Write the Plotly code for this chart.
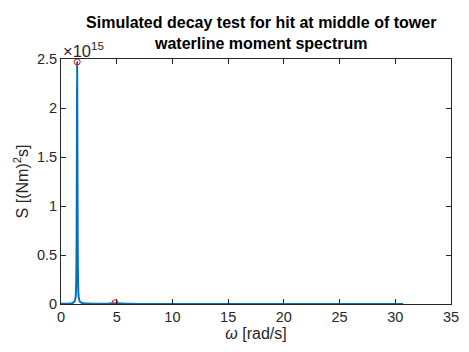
import plotly.graph_objects as go

# spectrum samples (rad/s, (Nm)^2 s)
omega = [0.0, 0.5, 1.0, 1.2, 1.3, 1.36, 1.40, 1.43, 1.45, 1.47, 1.50, 1.54, 1.60, 1.7, 1.9, 2.3, 3.0, 4.0, 4.85, 6.0, 8.0, 12.0, 16.0, 20.0, 25.0, 30.7]
S = [2e12, 3e12, 8e12, 2.5e13, 6e13, 2.0e14, 6.5e14, 1.7e15, 2.47e15, 1.7e15, 6.5e14, 2.0e14, 6e13, 2.5e13, 1.0e13, 5e12, 3e12, 3e12, 8e12, 2e12, 1e12, 6e11, 4e11, 3e11, 2e11, 1e11]

# detected peaks
peak_omega = [1.45, 4.85]
peak_S = [2.47e15, 1.2e13]

ytick_vals = [0, 0.5e15, 1.0e15, 1.5e15, 2.0e15, 2.5e15]
ytick_text = ["0", "0.5", "1", "1.5", "2", "2.5"]
xtick_vals = [0, 5, 10, 15, 20, 25, 30, 35]

fig = go.Figure()
fig.add_trace(go.Scatter(x=omega, y=S, mode="lines",
                         line=dict(color="#0072BD", width=2), line_shape="spline"))
fig.add_trace(go.Scatter(x=peak_omega, y=peak_S, mode="markers",
                         marker=dict(symbol="circle-open", color="red", size=6, line=dict(width=1))))

axis_common = dict(showline=True, linecolor="#262626", linewidth=1, mirror="ticks",
                   ticks="inside", ticklen=5, tickcolor="#262626", showgrid=False,
                   zeroline=False, tickfont=dict(size=14.5, color="#262626"))
fig.update_xaxes(range=[0, 35], tickvals=xtick_vals,
                 title=dict(text="<i>ω</i> [rad/s]", font=dict(size=16, color="#262626"), standoff=2),
                 **axis_common)
fig.update_yaxes(range=[0, 2.5e15], tickvals=ytick_vals, ticktext=ytick_text,
                 title=dict(text="S [(Nm)<sup>2</sup>s]", font=dict(size=16, color="#262626"), standoff=4),
                 **axis_common)

fig.update_layout(
    width=469, height=352,
    margin=dict(l=61, r=10, t=59, b=48),
    plot_bgcolor="white", paper_bgcolor="white",
    showlegend=False,
    font=dict(family="Liberation Sans, Arial, sans-serif", color="#262626"),
    title=dict(text="<b>Simulated decay test for hit at middle of tower<br>waterline moment spectrum</b>",
               x=0.557, xanchor="center", xref="container", y=0.921, yanchor="middle", yref="container",
               font=dict(size=16, color="black")),
    annotations=[dict(text="×10<sup>15</sup>", xref="paper", yref="paper", x=0.0, y=1.0,
                      xanchor="left", yanchor="bottom", showarrow=False,
                      font=dict(size=16.5, color="#262626"), yshift=-3)],
)

fig.write_html("out.html")
